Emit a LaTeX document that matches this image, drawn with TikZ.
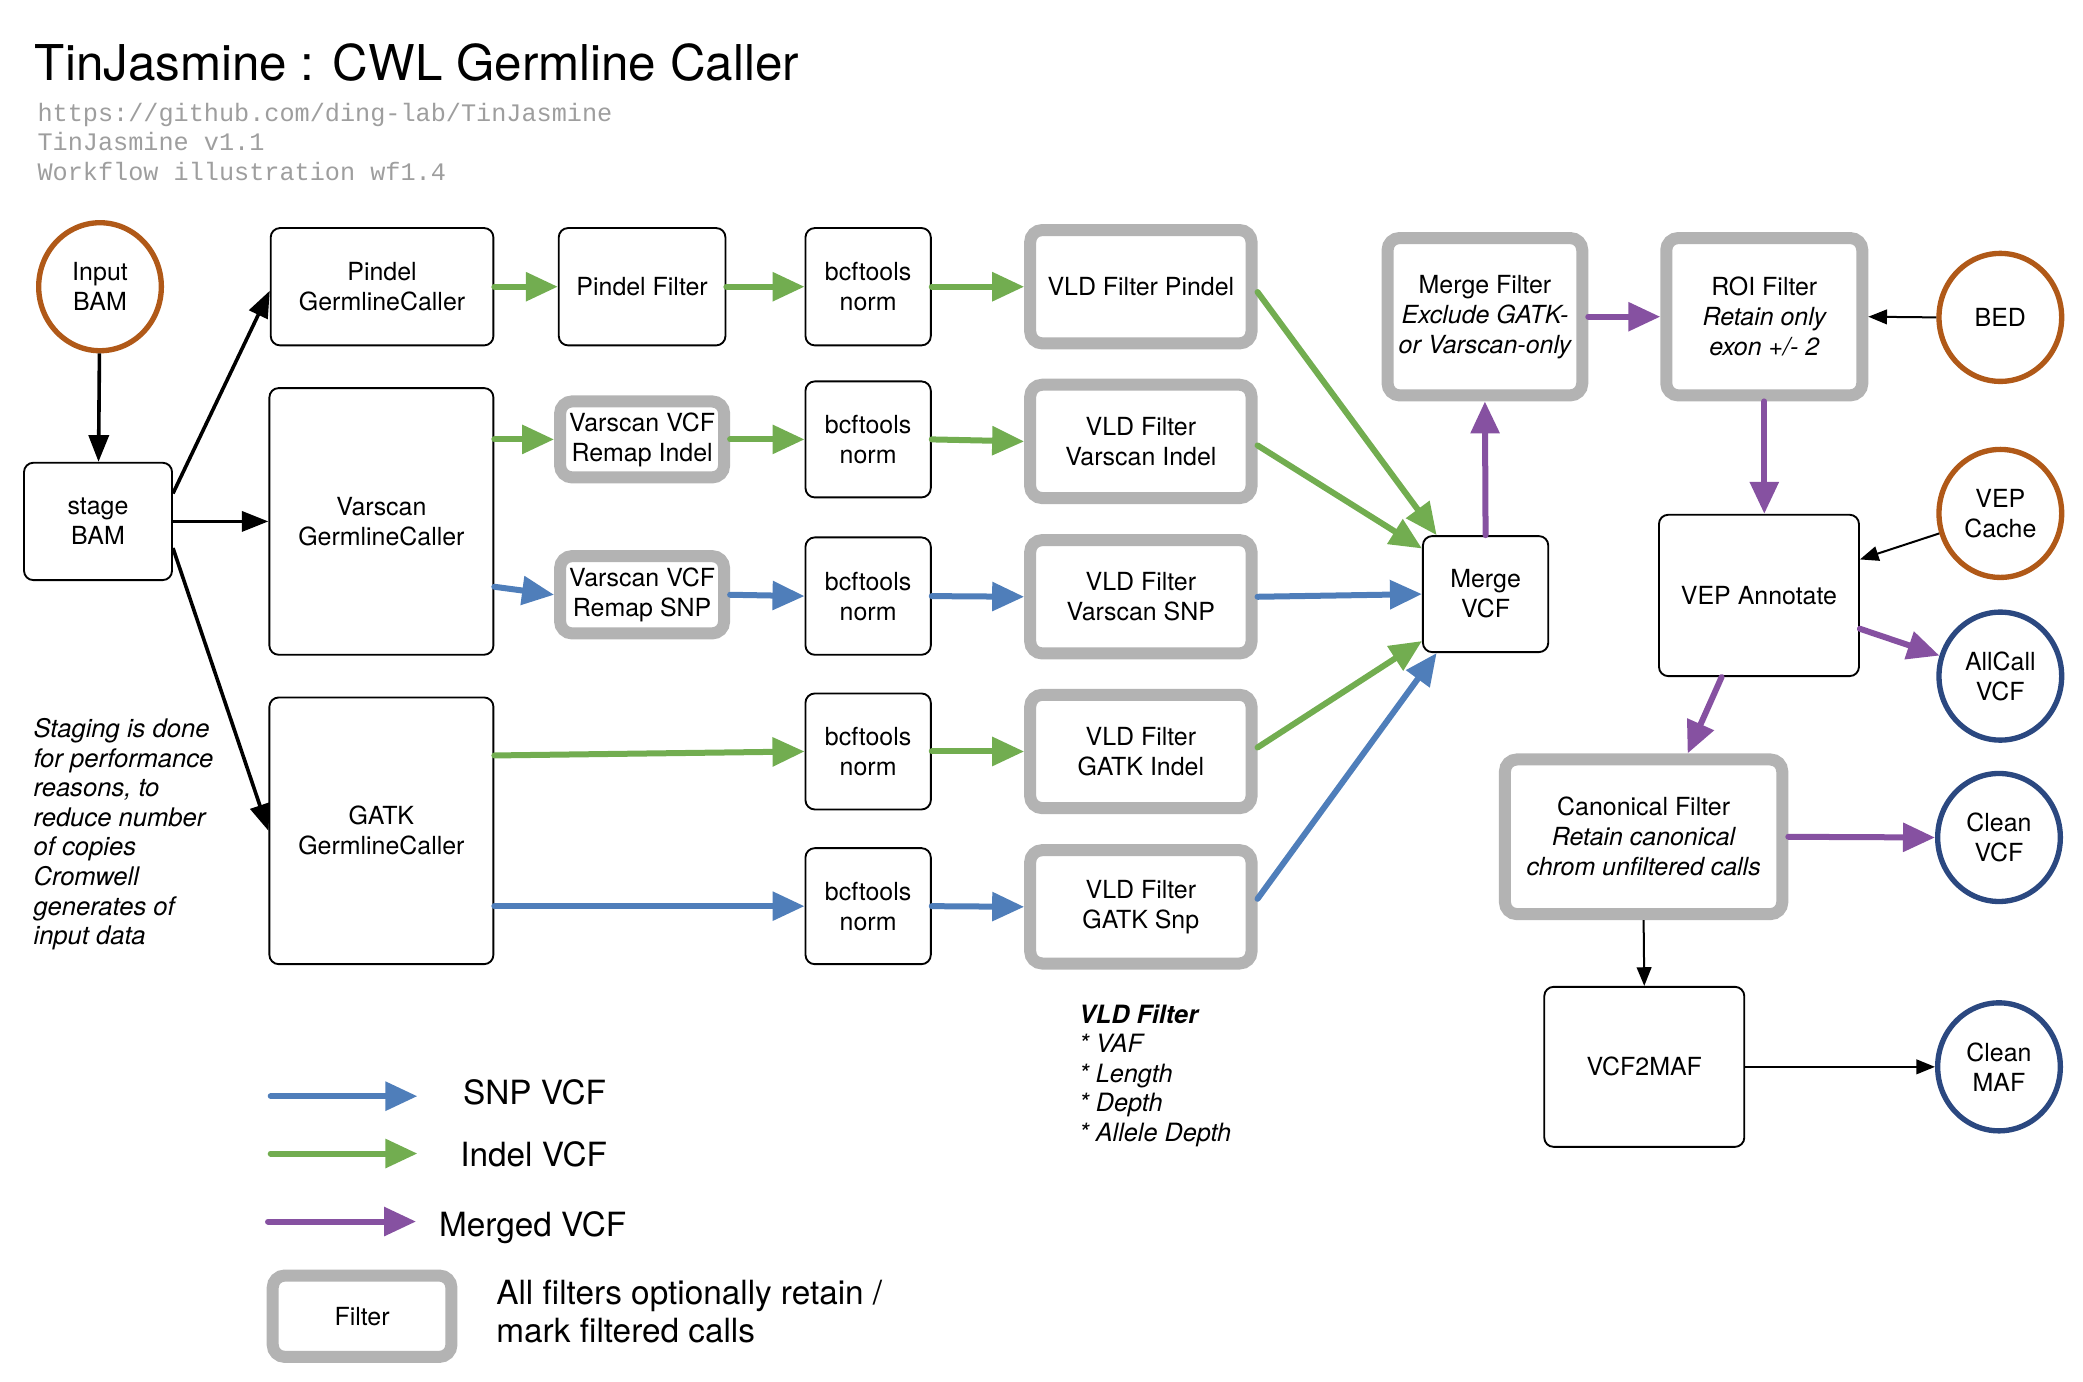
\documentclass[tikz,border=0pt]{standalone}
\usepackage{fontspec}
\setmainfont{TeX Gyre Heros}
\setmonofont{Liberation Mono}
\usetikzlibrary{shapes.geometric,arrows.meta,calc}
\definecolor{cblue}{RGB}{79,126,186}
\definecolor{cgreen}{RGB}{114,173,80}
\definecolor{cpurple}{RGB}{134,81,161}
\definecolor{cbrown}{RGB}{176,89,24}
\definecolor{cnavy}{RGB}{43,72,128}
\definecolor{fgray}{RGB}{179,179,179}
\definecolor{mgray}{RGB}{158,158,158}
\newcommand\nodefnt{\fontsize{18.7}{22.5}\selectfont}
\newcommand\legfnt{\fontsize{25}{29}\selectfont}
\begin{document}
\begin{tikzpicture}[x=1pt,y=-1pt,
  box/.style={draw=black, line width=1.4pt, rounded corners=7pt, fill=white, align=center, inner sep=0pt, font=\nodefnt},
  filt/.style={draw=fgray, line width=9pt, rounded corners=9pt, fill=white, align=center, inner sep=0pt, font=\nodefnt},
  circ/.style={ellipse, draw, line width=4pt, minimum width=92pt, minimum height=96pt, inner sep=0pt, align=center, font=\nodefnt},
  inbrown/.style={circ, draw=cbrown},
  outnavy/.style={circ, draw=cnavy},
  flow/.style={line width=4.5pt, line cap=round, -{Triangle[length=24pt,width=21pt]}},
  snp/.style={flow, draw=cblue, fill=cblue},
  indel/.style={flow, draw=cgreen, fill=cgreen},
  merged/.style={flow, draw=cpurple, fill=cpurple},
  blk/.style={draw=black, line width=2.7pt, -{Triangle[length=20pt,width=15pt]}},
  thin/.style={draw=black, line width=1.5pt, -{Triangle[length=14pt,width=11pt]}},
  txt/.style={inner sep=0pt, align=left}
]
\useasboundingbox (0,0) rectangle (1562,1036);

% title and header
\node[txt, anchor=base west, font=\fontsize{37}{44}\selectfont] (title) at (26,60) {TinJasmine : CWL Germline Caller};
\node[txt, anchor=base west, text=mgray, font=\ttfamily\fontsize{18.9}{22}\selectfont] (url) at (28,91) {https://github.com/ding-lab/TinJasmine};
\node[txt, anchor=base west, text=mgray, font=\ttfamily\fontsize{18.9}{22}\selectfont] (ver) at (28,113) {TinJasmine v1.1};
\node[txt, anchor=base west, text=mgray, font=\ttfamily\fontsize{18.9}{22}\selectfont] (wf) at (28,135) {Workflow illustration wf1.4};

% inputs
\node[inbrown] (input) at (75,215) {Input\\BAM};
\node[box, minimum width=111pt, minimum height=88pt] (stage) at (73.5,391) {stage\\BAM};

% callers
\node[box, minimum width=167pt, minimum height=88pt] (pindelgc) at (286.5,215) {Pindel\\GermlineCaller};
\node[box, minimum width=168pt, minimum height=200pt] (varscangc) at (286,391) {Varscan\\GermlineCaller};
\node[box, minimum width=168pt, minimum height=200pt] (gatkgc) at (286,623) {GATK\\GermlineCaller};

\node[box, minimum width=125pt, minimum height=88pt] (pindelfilter) at (481.5,215) {Pindel Filter};
\node[filt, minimum width=123pt, minimum height=57pt] (remapindel) at (481.5,329.5) {Varscan VCF\\Remap Indel};
\node[filt, minimum width=123pt, minimum height=58pt] (remapsnp) at (481.5,446) {Varscan VCF\\Remap SNP};

% bcftools
\node[box, minimum width=94pt, minimum height=88pt] (bcf1) at (651,215) {bcftools\\norm};
\node[box, minimum width=94pt, minimum height=87pt] (bcf2) at (651,329.5) {bcftools\\norm};
\node[box, minimum width=94pt, minimum height=88pt] (bcf3) at (651,447) {bcftools\\norm};
\node[box, minimum width=94pt, minimum height=87pt] (bcf4) at (651,563.5) {bcftools\\norm};
\node[box, minimum width=94pt, minimum height=87pt] (bcf5) at (651,679.5) {bcftools\\norm};

% VLD filters
\node[filt, minimum width=166pt, minimum height=85pt] (vld1) at (855.5,215) {VLD Filter Pindel};
\node[filt, minimum width=166pt, minimum height=85pt] (vld2) at (855.5,331) {VLD Filter\\Varscan Indel};
\node[filt, minimum width=166pt, minimum height=85pt] (vld3) at (855.5,447.5) {VLD Filter\\Varscan SNP};
\node[filt, minimum width=166pt, minimum height=85pt] (vld4) at (855.5,563.5) {VLD Filter\\GATK Indel};
\node[filt, minimum width=166pt, minimum height=85pt] (vld5) at (855.5,680) {VLD Filter\\GATK Snp};

% merge and downstream
\node[box, minimum width=94pt, minimum height=87pt] (merge) at (1114,445.5) {Merge\\VCF};
\node[filt, minimum width=146pt, minimum height=118pt] (mergefilter) at (1113.5,237.5) {Merge Filter\\{\itshape Exclude GATK-}\\{\itshape or Varscan-only}};
\node[filt, minimum width=147pt, minimum height=118pt] (roi) at (1323,237.5) {ROI Filter\\{\itshape Retain only}\\{\itshape exon +/- 2}};
\node[inbrown] (bed) at (1500,238) {BED};
\node[inbrown] (vepcache) at (1500,385) {VEP\\Cache};
\node[box, minimum width=150pt, minimum height=121pt] (vep) at (1319,446.5) {VEP Annotate};
\node[outnavy] (allcall) at (1500,507) {AllCall\\VCF};
\node[filt, minimum width=208pt, minimum height=116pt] (canonical) at (1232.5,627.5) {Canonical Filter\\{\itshape Retain canonical}\\{\itshape chrom unfiltered calls}};
\node[outnavy] (cleanvcf) at (1499,628) {Clean\\VCF};
\node[box, minimum width=150pt, minimum height=120pt] (vcf2maf) at (1233,800) {VCF2MAF};
\node[outnavy] (cleanmaf) at (1499,800) {Clean\\MAF};

% notes
\node[txt, anchor=north west, font=\itshape\fontsize{19.2}{22.2}\selectfont] (staging) at (25,538.5) {Staging is done\\for performance\\reasons, to\\reduce number\\of copies\\Cromwell\\generates of\\input data};
\node[txt, anchor=north west, font=\itshape\fontsize{18.9}{22.2}\selectfont] (vldnote) at (809,753) {\bfseries VLD Filter\\* VAF\\* Length\\* Depth\\* Allele Depth};

% black connectors
\draw[blk] (input) -- (stage);
\draw[blk] ([yshift=21pt]stage.east) -- ([yshift=-3pt]pindelgc.west);
\draw[blk] (stage.east) -- (stage.east -| varscangc.west);
\draw[blk] ([yshift=-20pt]stage.east) -- (gatkgc.west);

% pindel row
\draw[indel] (pindelgc.east) -- (pindelfilter.west);
\draw[indel] (pindelfilter.east) -- (bcf1.west);
\draw[indel] (bcf1.east) -- (vld1.west);
% varscan rows
\draw[indel] (varscangc.east |- remapindel.west) -- (remapindel.west);
\draw[indel] (remapindel.east) -- (bcf2.west);
\draw[indel] (bcf2.east) -- (vld2.west);
\draw[snp] ([yshift=6pt]varscangc.east |- remapsnp.west) -- (remapsnp.west);
\draw[snp] (remapsnp.east) -- (bcf3.west);
\draw[snp] (bcf3.east) -- (vld3.west);
% gatk rows
\draw[indel] ([yshift=-3pt]gatkgc.east |- bcf4.west) -- (bcf4.west);
\draw[indel] (bcf4.east) -- (vld4.west);
\draw[snp] (gatkgc.east |- bcf5.west) -- (bcf5.west);
\draw[snp] (bcf5.east) -- (vld5.west);

% into merge
\draw[indel] ([yshift=-4pt]vld1.east) -- ([xshift=11pt]merge.north west);
\draw[indel] ([yshift=-3pt]vld2.east) -- ([yshift=-10pt]merge.north west);
\draw[snp] (vld3.east) -- (merge.west);
\draw[indel] ([yshift=3pt]vld4.east) -- ([yshift=9pt]merge.south west);
\draw[snp] ([yshift=6pt]vld5.east) -- ([xshift=11pt]merge.south west);

% merged path
\draw[merged] (merge.north) -- (mergefilter.south);
\draw[merged] (mergefilter.east) -- (roi.west);
\draw[merged] (roi.south) -- (roi.south |- vep.north);
\draw[merged] ([yshift=-25pt]vep.east) -- (allcall);
\draw[merged] ([xshift=-28pt]vep.south) -- ([xshift=33pt]canonical.north);
\draw[merged] (canonical.east) -- (cleanvcf.west);

% thin black
\draw[thin] (bed.west) -- (roi.east);
\draw[thin] (vepcache) -- ([yshift=27pt]vep.east);
\draw[thin] (canonical.south) -- (vcf2maf.north);
\draw[thin] (vcf2maf.east) -- (cleanmaf.west);

% legend
\coordinate (la1) at (203,822); \coordinate (lb1) at (313,822);
\coordinate (la2) at (203,865); \coordinate (lb2) at (313,865);
\coordinate (la3) at (201,916); \coordinate (lb3) at (312,916);
\draw[snp] (la1) -- (lb1);
\draw[indel] (la2) -- (lb2);
\draw[merged] (la3) -- (lb3);
\node[txt, anchor=base west, font=\legfnt] (lsnp) at (347,828.5) {SNP VCF};
\node[txt, anchor=base west, font=\legfnt] (lindel) at (345,875) {Indel VCF};
\node[txt, anchor=base west, font=\legfnt] (lmerged) at (329,927) {Merged VCF};
\node[filt, minimum width=134pt, minimum height=61pt] (lfilter) at (271.5,987) {Filter};
\node[txt, anchor=north west, font=\legfnt] (lfiltxt) at (372,959.5) {All filters optionally retain /\\mark filtered calls};
\end{tikzpicture}
\end{document}
